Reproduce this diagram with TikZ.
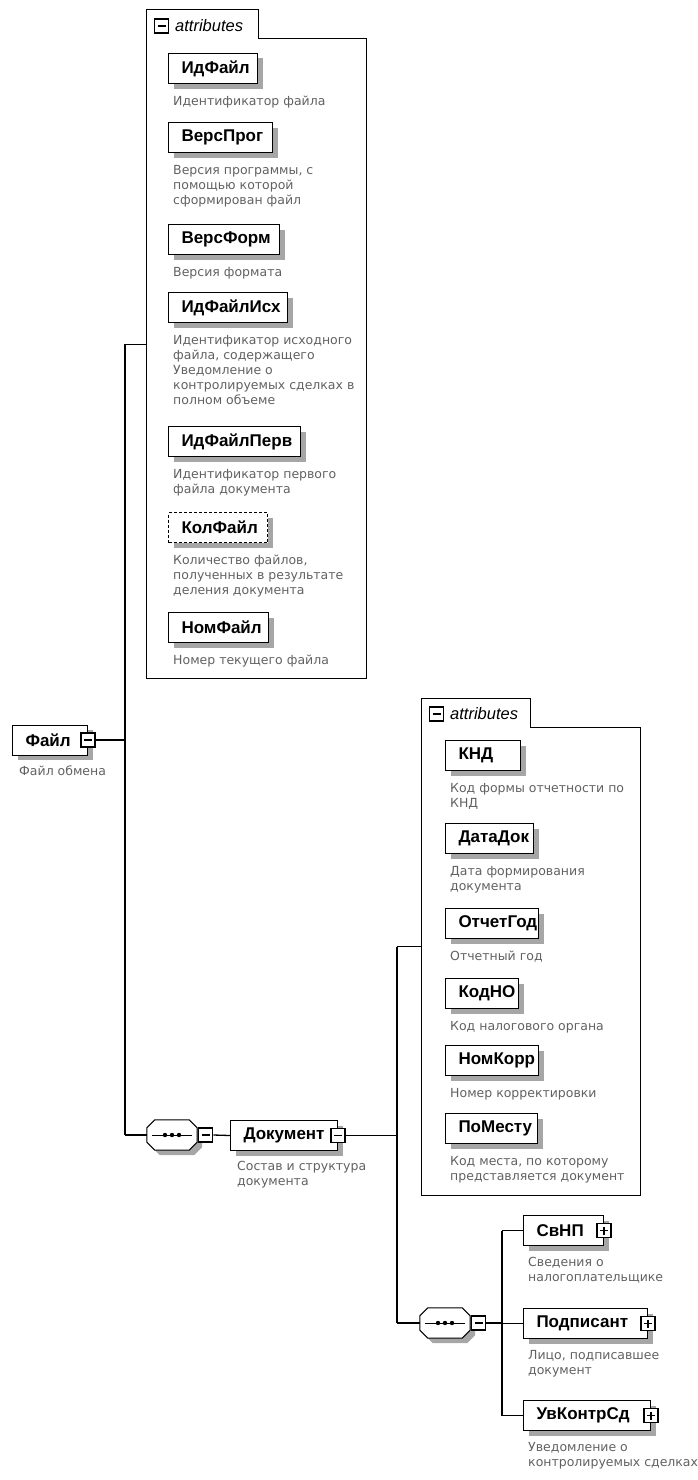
\documentclass[tikz,border=0pt]{standalone}
\usepackage{fontspec}
\setmainfont{Liberation Sans}
\newfontfamily\descfont{DejaVu Sans}
\usetikzlibrary{shadows}
\newcommand\lbl[2]{\makebox[#1pt][l]{#2}}
\newcommand\seqmark[1]{%
  \fill[black!35] ([xshift=13pt,yshift=-5pt]#1.north west) -- ([xshift=-3pt,yshift=-5pt]#1.north east)
     -- ([xshift=5pt,yshift=-13pt]#1.north east) -- ([xshift=5pt,yshift=3pt]#1.south east)
     -- ([xshift=-3pt,yshift=-5pt]#1.south east) -- ([xshift=13pt,yshift=-5pt]#1.south west)
     -- ([xshift=5pt,yshift=3pt]#1.south west) -- ([xshift=5pt,yshift=-13pt]#1.north west) -- cycle;
  \draw[line width=1pt, fill=white] ([xshift=8pt]#1.north west) -- ([xshift=-8pt]#1.north east)
     -- ([yshift=-8pt]#1.north east) -- ([yshift=8pt]#1.south east)
     -- ([xshift=-8pt]#1.south east) -- ([xshift=8pt]#1.south west)
     -- ([yshift=8pt]#1.south west) -- ([yshift=-8pt]#1.north west) -- cycle;
  \draw[line width=1pt] ([xshift=5pt]#1.west) -- ([xshift=-5pt]#1.east);
  \foreach \dx in {-7,0,7} \fill ([xshift=\dx pt]#1.center) circle (2.2pt);}
\begin{document}
\begin{tikzpicture}[x=1pt,y=-1pt,
  shd/.style={general shadow={fill=black!35, shadow xshift=5pt, shadow yshift=-5pt}},
  elem/.style={draw, line width=1pt, fill=white, anchor=north west, minimum height=30pt,
    inner xsep=13pt, inner ysep=0pt,
    font=\fontsize{17}{20}\selectfont\bfseries, shd},
  optelem/.style={elem, dashed, dash pattern=on 3pt off 2pt},
  desc/.style={anchor=north west, inner sep=0pt, align=left, text=black!62,
    font=\descfont\fontsize{12.5}{15}\selectfont},
  grp/.style={draw, line width=1pt},
  grparea/.style={inner sep=0pt, anchor=north west},
  tabtext/.style={anchor=west, inner sep=0pt, font=\fontsize{16.5}{18}\selectfont\itshape},
  iconbox/.style={draw, fill=white, line width=1.1pt, minimum size=14pt, inner sep=0pt},
  minusicon/.style={iconbox, path picture={\draw[line width=1.3pt]
      ([xshift=3pt]path picture bounding box.west) -- ([xshift=-3pt]path picture bounding box.east);}},
  plusicon/.style={iconbox, path picture={\draw[line width=1.3pt]
      ([xshift=3pt]path picture bounding box.west) -- ([xshift=-3pt]path picture bounding box.east);
      \draw[line width=1.3pt]
      ([yshift=-3pt]path picture bounding box.north) -- ([yshift=3pt]path picture bounding box.south);}},
  seqbox/.style={inner sep=0pt, minimum width=50pt, minimum height=30pt},
  conn/.style={line width=1.3pt}
]
\path[use as bounding box] (0,0) rectangle (698,1480);

% ---------- group 1 : attributes of Файл ----------
\node[grparea, minimum width=220pt, minimum height=668pt] (g1) at (146,10) {};
\draw[grp] (146,10) -- (258,10) -- (258,39) -- (366,39) -- (366,678) -- (146,678) -- cycle;
\node[minusicon] (g1m) at (161.5,26) {};
\node[tabtext] (g1t) at (175,26) {attributes};

\node[elem] (a1) at (168,53) {\lbl{63}{ИдФайл}};
\node[desc] (d1) at ([xshift=5pt,yshift=-12pt]a1.south west) {Идентификатор файла};
\node[elem] (a2) at (168,122) {\lbl{78}{ВерсПрог}};
\node[desc] (d2) at ([xshift=5pt,yshift=-12pt]a2.south west) {Версия программы, с\\помощью которой\\сформирован файл};
\node[elem] (a3) at (168,224) {\lbl{85}{ВерсФорм}};
\node[desc] (d3) at ([xshift=5pt,yshift=-12pt]a3.south west) {Версия формата};
\node[elem] (a4) at (168,292) {\lbl{93}{ИдФайлИсх}};
\node[desc] (d4) at ([xshift=5pt,yshift=-12pt]a4.south west) {Идентификатор исходного\\файла, содержащего\\Уведомление о\\контролируемых сделках в\\полном объеме};
\node[elem] (a5) at (168,426) {\lbl{106}{ИдФайлПерв}};
\node[desc] (d5) at ([xshift=5pt,yshift=-12pt]a5.south west) {Идентификатор первого\\файла документа};
\node[optelem] (a6) at (168,512) {\lbl{73}{КолФайл}};
\node[desc] (d6) at ([xshift=5pt,yshift=-12pt]a6.south west) {Количество файлов,\\полученных в результате\\деления документа};
\node[elem] (a7) at (168,612) {\lbl{74}{НомФайл}};
\node[desc] (d7) at ([xshift=5pt,yshift=-12pt]a7.south west) {Номер текущего файла};

% ---------- root element ----------
\node[elem] (file) at (12,724.5) {\lbl{49}{Файл}};
\node[minusicon] (filem) at (file.east) {};
\node[desc] (dfile) at ([xshift=7pt,yshift=-10pt]file.south west) {Файл обмена};

% ---------- sequence 1 ----------
\node[seqbox] (seq1) at (172,1135) {};
\seqmark{seq1}
\node[minusicon, anchor=west] (seq1m) at ([xshift=1pt]seq1.east) {};

% ---------- Документ ----------
\node[elem] (doc) at (230,1120) {\lbl{81}{Документ}};
\node[minusicon] (docm) at (doc.east) {};
\node[desc] (ddoc) at ([xshift=7pt,yshift=-10pt]doc.south west) {Состав и структура\\документа};

% ---------- group 2 : attributes of Документ ----------
\node[grparea, minimum width=219pt, minimum height=497pt] (g2) at (421,698) {};
\draw[grp] (421,698) -- (530,698) -- (530,727) -- (640,727) -- (640,1195) -- (421,1195) -- cycle;
\node[minusicon] (g2m) at (436.5,714) {};
\node[tabtext] (g2t) at (450,714) {attributes};

\node[elem] (b1) at (445,740) {\lbl{49}{КНД}};
\node[desc] (e1) at ([xshift=5pt,yshift=-12pt]b1.south west) {Код формы отчетности по\\КНД};
\node[elem] (b2) at (445,823) {\lbl{62}{ДатаДок}};
\node[desc] (e2) at ([xshift=5pt,yshift=-12pt]b2.south west) {Дата формирования\\документа};
\node[elem] (b3) at (445,908) {\lbl{67}{ОтчетГод}};
\node[desc] (e3) at ([xshift=5pt,yshift=-12pt]b3.south west) {Отчетный год};
\node[elem] (b4) at (445,978) {\lbl{47}{КодНО}};
\node[desc] (e4) at ([xshift=5pt,yshift=-12pt]b4.south west) {Код налогового органа};
\node[elem] (b5) at (445,1045) {\lbl{67}{НомКорр}};
\node[desc] (e5) at ([xshift=5pt,yshift=-12pt]b5.south west) {Номер корректировки};
\node[elem] (b6) at (445,1113) {\lbl{66}{ПоМесту}};
\node[desc] (e6) at ([xshift=5pt,yshift=-12pt]b6.south west) {Код места, по которому\\представляется документ};

% ---------- sequence 2 ----------
\node[seqbox] (seq2) at (445,1323) {};
\seqmark{seq2}
\node[minusicon, anchor=west] (seq2m) at ([xshift=1pt]seq2.east) {};

% ---------- children ----------
\node[elem] (c1) at (523,1215) {\lbl{54}{СвНП}};
\node[plusicon] (c1p) at (c1.east) {};
\node[desc] (f1) at ([xshift=5pt,yshift=-11pt]c1.south west) {Сведения о\\налогоплательщике};
\node[elem] (c2) at (523,1308) {\lbl{98}{Подписант}};
\node[plusicon] (c2p) at (c2.east) {};
\node[desc] (f2) at ([xshift=5pt,yshift=-11pt]c2.south west) {Лицо, подписавшее\\документ};
\node[elem] (c3) at (523,1400) {\lbl{101}{УвКонтрСд}};
\node[plusicon] (c3p) at (c3.east) {};
\node[desc] (f3) at ([xshift=5pt,yshift=-11pt]c3.south west) {Уведомление о\\контролируемых сделках};

% ---------- connectors ----------
\coordinate (t1) at (125,0);
\coordinate (t2) at (397,0);
\coordinate (t3) at (502,0);
\draw[conn] (filem.east) -- (filem.east -| t1);
\draw[conn] (g1.west -| t1) -- (seq1.west -| t1);
\draw[conn] (g1.west -| t1) -- (g1.west);
\draw[conn] (seq1.west -| t1) -- (seq1.west);
\draw[conn] (seq1m.east) -- (doc.west);

\draw[conn] (docm.east) -- (docm.east -| t2);
\draw[conn] (g2.west -| t2) -- (seq2.west -| t2);
\draw[conn] (g2.west -| t2) -- (g2.west);
\draw[conn] (seq2.west -| t2) -- (seq2.west);

\draw[conn] (seq2m.east) -- (seq2m.east -| t3);
\draw[conn] (c1.west -| t3) -- (c3.west -| t3);
\draw[conn] (c1.west -| t3) -- (c1.west);
\draw[conn] (c2.west -| t3) -- (c2.west);
\draw[conn] (c3.west -| t3) -- (c3.west);
\end{tikzpicture}
\end{document}
